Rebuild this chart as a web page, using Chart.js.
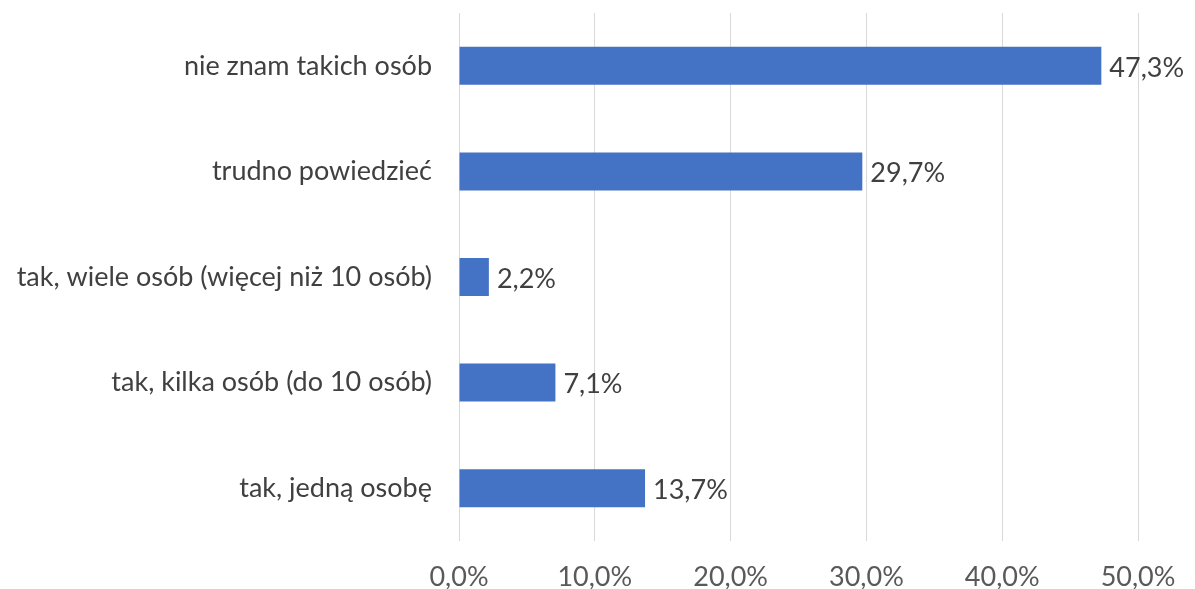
<!DOCTYPE html>
<html><head><meta charset="utf-8">
<script src="https://cdn.jsdelivr.net/npm/chart.js@4"></script>
<style>html,body{margin:0;padding:0;background:#fff}#wrap{width:1195px;height:589px}</style>
</head><body><div id="wrap"><canvas id="c" width="1195" height="589"></canvas></div>
<script>
const categories = ["nie znam takich osób","trudno powiedzieć","tak, wiele osób (więcej niż 10 osób)","tak, kilka osób (do 10 osób)","tak, jedną osobę"];
const values = [47.3, 29.7, 2.2, 7.1, 13.7];
const tickValues = [0,10,20,30,40,50];
const tickLabels = ["0,0%","10,0%","20,0%","30,0%","40,0%","50,0%"];
const FONT = "Lato, 'Open Sans', sans-serif";
const FSIZE = 27;

const labelPlugin = {
  id:'barLabels',
  afterDatasetsDraw(chart){
    const ctx = chart.ctx;
    const meta = chart.getDatasetMeta(0);
    ctx.save();
    ctx.font = FSIZE + "px " + FONT;
    ctx.fillStyle = "#404040";
    ctx.textAlign = "left";
    ctx.textBaseline = "middle";
    meta.data.forEach((bar,i)=>{
      ctx.fillText(values[i].toFixed(1).replace('.',',')+'%', bar.x + 8, bar.y + 2);
    });
    ctx.restore();
  }
};

new Chart(document.getElementById('c'), {
  type:'bar',
  data:{labels:categories, datasets:[{data:values, backgroundColor:'#4472C4', categoryPercentage:0.6, barPercentage:0.6}]},
  options:{
    indexAxis:'y', responsive:false, animation:false,
    layout:{padding:{top:13,right:57,left:0,bottom:0}},
    plugins:{legend:{display:false}, tooltip:{enabled:false}},
    scales:{
      x:{min:0,max:50,
        afterBuildTicks(s){ s.ticks = tickValues.map(v=>({value:v})); },
        afterTickToLabelConversion(s){ s.ticks.forEach((t,i)=>{ t.label = tickLabels[tickValues.indexOf(t.value)]; }); },
        afterFit(s){ s.height = 48; s.paddingLeft = 0; s.paddingRight = 0; },
        grid:{color:'#d9d9d9', lineWidth:1, drawTicks:false},
        border:{display:false},
        ticks:{padding:20, color:'#595959', font:{family:FONT,size:FSIZE}}
      },
      y:{
        afterFit(s){ s.width = 459; s.paddingTop = 0; s.paddingBottom = 0; },
        grid:{display:false, drawTicks:false},
        border:{display:false},
        ticks:{padding:27, color:'#404040', font:{family:FONT,size:FSIZE}}
      }
    }
  },
  plugins:[labelPlugin]
});
</script></body></html>
